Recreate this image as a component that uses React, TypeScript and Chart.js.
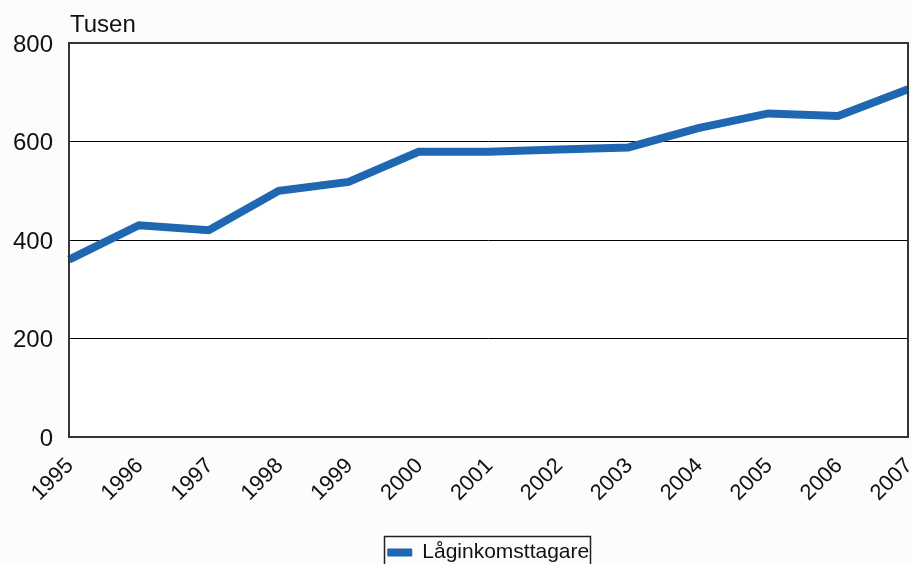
import React, { useEffect, useRef } from 'react';
import { Chart, registerables } from 'chart.js';

Chart.register(...registerables);

const years = ['1995', '1996', '1997', '1998', '1999', '2000', '2001', '2002', '2003', '2004', '2005', '2006', '2007'];
const lowIncomeEarners = [360, 430, 420, 500, 518, 579, 579, 584, 588, 627, 657, 652, 706];
const yTickValues = [0, 200, 400, 600, 800];
const unitLabel = 'Tusen';
const seriesLabel = 'Låginkomsttagare';

const FONT = "'Liberation Sans', Arial, sans-serif";
const LINE_COLOR = '#1f67b1';

const decorPlugin = {
  id: 'decor',
  beforeDraw(chart: any) {
    const { ctx, chartArea } = chart;
    ctx.save();
    ctx.fillStyle = '#fcfcfc';
    ctx.fillRect(0, 0, chart.width, chart.height);
    ctx.fillStyle = '#ffffff';
    ctx.fillRect(chartArea.left, chartArea.top, chartArea.right - chartArea.left, chartArea.bottom - chartArea.top);
    ctx.restore();
  },
  afterDatasetsDraw(chart: any) {
    const { ctx, chartArea } = chart;
    ctx.save();
    ctx.strokeStyle = '#353535';
    ctx.lineWidth = 2;
    ctx.strokeRect(chartArea.left, chartArea.top, chartArea.right - chartArea.left, chartArea.bottom - chartArea.top);
    ctx.fillStyle = '#111111';
    ctx.font = `24px ${FONT}`;
    ctx.textAlign = 'left';
    ctx.textBaseline = 'middle';
    ctx.fillText(unitLabel, chartArea.left + 1, 25);
    ctx.restore();
  },
  afterDraw(chart: any) {
    const legend = chart.legend;
    if (!legend || !legend.legendHitBoxes || !legend.legendHitBoxes.length) return;
    const hb = legend.legendHitBoxes[0];
    const { ctx } = chart;
    ctx.save();
    ctx.strokeStyle = '#222222';
    ctx.lineWidth = 1.5;
    const left = Math.round(hb.left - 3.5) + 0.5;
    const right = Math.round(hb.left + hb.width + 1) + 0.5;
    const top = Math.round(hb.top - 6.5) + 0.5;
    ctx.strokeRect(left, top, right - left, chart.height + 10 - top);
    ctx.restore();
  },
};

export default function App() {
  const canvasRef = useRef<HTMLCanvasElement | null>(null);

  useEffect(() => {
    if (!canvasRef.current) return;
    const chart = new Chart(canvasRef.current, {
      type: 'line',
      data: {
        labels: years,
        datasets: [
          {
            label: seriesLabel,
            data: lowIncomeEarners,
            borderColor: LINE_COLOR,
            backgroundColor: LINE_COLOR,
            borderWidth: 8,
            pointRadius: 0,
            pointHoverRadius: 0,
            tension: 0,
            fill: false,
            borderJoinStyle: 'miter',
          },
        ],
      },
      options: {
        animation: false,
        responsive: false,
        devicePixelRatio: 1,
        layout: { padding: { top: 43, right: 3, left: 0, bottom: -9 } },
        plugins: {
          tooltip: { enabled: false },
          title: { display: false },
          legend: {
            display: true,
            position: 'bottom',
            fullSize: false,
            labels: {
              boxWidth: 24,
              boxHeight: 7,
              padding: 2,
              color: '#111111',
              font: { family: FONT, size: 21 },
              generateLabels(chart: any) {
                const items = Chart.defaults.plugins.legend.labels.generateLabels(chart);
                return items.map((it: any) => ({ ...it, lineWidth: 1, strokeStyle: LINE_COLOR, fillStyle: LINE_COLOR }));
              },
            },
          },
        },
        scales: {
          x: {
            type: 'category',
            offset: false,
            grid: { display: false, drawTicks: false },
            border: { display: false },
            ticks: {
              autoSkip: false,
              maxRotation: 45,
              minRotation: 45,
              padding: 16,
              labelOffset: 1,
              color: '#111111',
              font: { family: FONT, size: 22 },
            },
            afterFit(scale: any) {
              scale.height = 103;
              scale.paddingLeft = 0;
              scale.paddingRight = 0;
            },
          },
          y: {
            min: 0,
            max: 800,
            afterBuildTicks(scale: any) {
              scale.ticks = yTickValues.map((v) => ({ value: v }));
            },
            grid: {
              color: (ctx: any) => (ctx.tick && (ctx.tick.value === 0 || ctx.tick.value === 800) ? 'rgba(0,0,0,0)' : '#000000'),
              lineWidth: 1,
              drawTicks: false,
            },
            border: { display: false },
            ticks: {
              padding: 16,
              labelOffset: 2,
              color: '#111111',
              font: { family: FONT, size: 24 },
            },
            afterFit(scale: any) {
              scale.width = 69;
            },
          },
        },
      },
      plugins: [decorPlugin],
    });
    return () => chart.destroy();
  }, []);

  return (
    <div style={{ position: 'fixed', left: 0, top: 0, width: 911, height: 564 }}>
      <canvas ref={canvasRef} width={911} height={564} style={{ width: 911, height: 564, display: 'block' }} />
    </div>
  );
}
